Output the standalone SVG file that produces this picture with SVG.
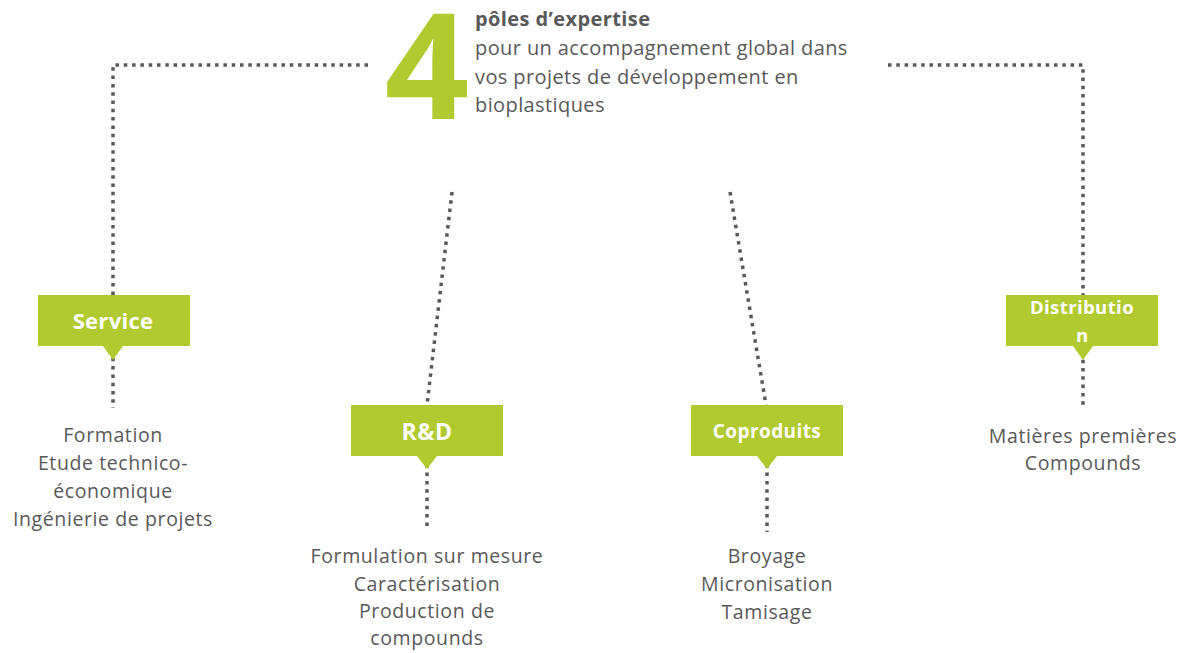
<svg xmlns="http://www.w3.org/2000/svg" width="1182" height="653" viewBox="0 0 1182 653">
<style>
.dot{fill:none;stroke:#595959;stroke-width:3.5;stroke-dasharray:3.5 4.8}
.box{fill:#b1ca2f}
.lbl{font-family:"Open Sans","Noto Sans",sans-serif;font-weight:bold;fill:#ffffff;text-anchor:middle}
.body{font-family:"Open Sans","Noto Sans",sans-serif;font-size:19.5px;letter-spacing:0.6px;fill:#595959;text-anchor:middle}
.head{font-family:"Open Sans","Noto Sans",sans-serif;font-size:20px;letter-spacing:0.4px;fill:#595959}
</style>
<rect width="1182" height="653" fill="#ffffff"/>
<g id="connectors">
<path class="dot" d="M368 65 H113 V408"/>
<path class="dot" d="M888 65 H1083 V408"/>
<path class="dot" d="M452 192 L427 405"/>
<path class="dot" d="M427 456 V526"/>
<path class="dot" d="M730 192 L766 405"/>
<path class="dot" d="M767 456 V532"/>
</g>
<g id="title">
<text x="427" y="119" font-family="'Open Sans','Noto Sans',sans-serif" font-weight="bold" font-size="148" fill="#b1ca2f" text-anchor="middle">4</text>
<text class="head" x="475" y="26" font-weight="bold">pôles d’expertise</text>
<text class="head" x="475" y="55">pour un accompagnement global dans</text>
<text class="head" x="475" y="84">vos projets de développement en</text>
<text class="head" x="475" y="112">bioplastiques</text>
</g>
<g id="service">
<rect class="box" x="38" y="295" width="152" height="51"/>
<path class="box" d="M103 346 L123 346 L113 360 Z"/>
<text class="lbl" x="113" y="329" font-size="22" letter-spacing="0.3">Service</text>
<text class="body" x="113" y="442">Formation</text>
<text class="body" x="113" y="470">Etude technico-</text>
<text class="body" x="113" y="498">économique</text>
<text class="body" x="113" y="526">Ingénierie de projets</text>
</g>
<g id="rd">
<rect class="box" x="351" y="405" width="152" height="51"/>
<path class="box" d="M417 456 L437 456 L427 469 Z"/>
<text class="lbl" x="427" y="440" font-size="23" letter-spacing="0.5">R&amp;D</text>
<text class="body" x="427" y="563">Formulation sur mesure</text>
<text class="body" x="427" y="591">Caractérisation</text>
<text class="body" x="427" y="618">Production de</text>
<text class="body" x="427" y="645">compounds</text>
</g>
<g id="coproduits">
<rect class="box" x="691" y="405" width="152" height="51"/>
<path class="box" d="M757 456 L777 456 L767 469 Z"/>
<text class="lbl" x="767" y="438" font-size="19" letter-spacing="0.4">Coproduits</text>
<text class="body" x="767" y="563">Broyage</text>
<text class="body" x="767" y="591">Micronisation</text>
<text class="body" x="767" y="619">Tamisage</text>
</g>
<g id="distribution">
<rect class="box" x="1006" y="295" width="152" height="51"/>
<path class="box" d="M1073 346 L1093 346 L1083 360 Z"/>
<text class="lbl" x="1082" y="314" font-size="18.5" letter-spacing="0.4">Distributio</text>
<text class="lbl" x="1082" y="342" font-size="18.5">n</text>
<text class="body" x="1083" y="443">Matières premières</text>
<text class="body" x="1083" y="470">Compounds</text>
</g>
</svg>
